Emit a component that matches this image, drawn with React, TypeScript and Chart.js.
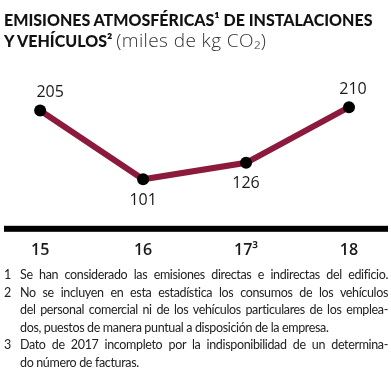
import React, { useEffect, useRef } from "react";
import { Chart, registerables } from "chart.js";

Chart.register(...registerables);

const categories = ["15", "16", "17³", "18"];
const values = [205, 101, 126, 210];
const valueLabels = ["205", "101", "126", "210"];
const labelPlacement = ["above", "below", "below", "above"];

const LINE_COLOR = "#8C1A3C";

const overlayPlugin = {
  id: "overlay",
  afterDraw(chart: any) {
    const { ctx, chartArea } = chart;
    const meta = chart.getDatasetMeta(0);
    ctx.save();
    ctx.fillStyle = "#000";
    ctx.fillRect(4, chartArea.bottom + 16, 384, 6);
    ctx.font = "400 16px 'Open Sans'";
    ctx.fillStyle = "#1a1a1a";
    ctx.textAlign = "center";
    ctx.textBaseline = "middle";
    meta.data.forEach((pt: any, i: number) => {
      const above = labelPlacement[i] === "above";
      const dx = i === 0 ? 10 : i === 3 ? 4 : 0;
      const dy = above ? -18 : 21;
      ctx.fillText(valueLabels[i], pt.x + dx, pt.y + dy);
    });
    ctx.restore();
  },
};

function ChartCanvas() {
  const ref = useRef<HTMLCanvasElement>(null);
  useEffect(() => {
    if (!ref.current) return;
    const chart = new Chart(ref.current, {
      type: "line",
      data: {
        labels: categories,
        datasets: [
          {
            data: values,
            borderColor: LINE_COLOR,
            borderWidth: 6,
            pointRadius: 6,
            pointBackgroundColor: "#000",
            pointBorderColor: "#000",
            pointBorderWidth: 0,
            tension: 0,
            clip: false as any,
          },
        ],
      },
      options: {
        responsive: false,
        animation: false,
        layout: { padding: { left: 38, right: 42, top: 80, bottom: 84 } },
        plugins: {
          legend: { display: false },
          tooltip: { enabled: false },
        },
        scales: {
          x: {
            grid: { display: false, drawTicks: false },
            border: { display: false },
            ticks: {
              padding: 31,
              color: "#1a1a1a",
              font: { family: "'Open Sans'", size: 16, weight: "600" as any },
              maxRotation: 0,
              autoSkip: false,
            },
          },
          y: {
            display: false,
            min: 55,
            max: 251,
          },
        },
      },
      plugins: [overlayPlugin],
    });
    return () => chart.destroy();
  }, []);
  return (
    <canvas
      ref={ref}
      width={391}
      height={375}
      style={{ position: "absolute", left: 0, top: 0, width: 391, height: 375 }}
    />
  );
}

const justified: React.CSSProperties = {
  textAlign: "justify",
  textAlignLast: "justify" as any,
  whiteSpace: "nowrap",
};

function Note({ n, lines, justifyLast }: { n: string; lines: string[]; justifyLast?: boolean }) {
  return (
    <div style={{ display: "flex" }}>
      <div style={{ width: 16, flex: "none" }}>{n}</div>
      <div style={{ flex: 1, minWidth: 0 }}>
        {lines.map((l, i) => (
          <div
            key={i}
            style={i < lines.length - 1 || justifyLast ? justified : { whiteSpace: "nowrap" }}
          >
            {l}
          </div>
        ))}
      </div>
    </div>
  );
}

export default function App() {
  return (
    <div style={{ position: "absolute", left: 0, top: 0, width: 391, height: 375, background: "#fff", overflow: "hidden" }}>
      <ChartCanvas />
      <div
        style={{
          position: "absolute",
          left: 4,
          top: 10,
          width: 390,
          fontFamily: "Lato",
          fontWeight: 900,
          fontSize: 16,
          lineHeight: "20px",
          color: "#111",
          whiteSpace: "nowrap",
        }}
      >
        <div>EMISIONES ATMOSFÉRICAS¹ DE INSTALACIONES</div>
        <div>
          Y VEHÍCULOS²{" "}
          <span style={{ fontFamily: "'Open Sans'", fontWeight: 300, fontSize: 19, letterSpacing: "0.4px", color: "#333" }}>
            (miles de kg CO₂)
          </span>
        </div>
      </div>
      <div
        style={{
          position: "absolute",
          left: 4,
          top: 266,
          width: 384,
          fontFamily: "Lato",
          fontWeight: 400,
          fontSize: 12.5,
          letterSpacing: "-0.35px",
          lineHeight: "17.6px",
          color: "#222",
        }}
      >
        <Note n="1" justifyLast lines={["Se han considerado las emisiones directas e indirectas del edificio."]} />
        <Note
          n="2"
          lines={[
            "No se incluyen en esta estadística los consumos de los vehículos",
            "del personal comercial ni de los vehículos particulares de los emplea-",
            "dos, puestos de manera puntual a disposición de la empresa.",
          ]}
        />
        <Note
          n="3"
          lines={[
            "Dato de 2017 incompleto por la indisponibilidad de un determina-",
            "do número de facturas.",
          ]}
        />
      </div>
    </div>
  );
}
